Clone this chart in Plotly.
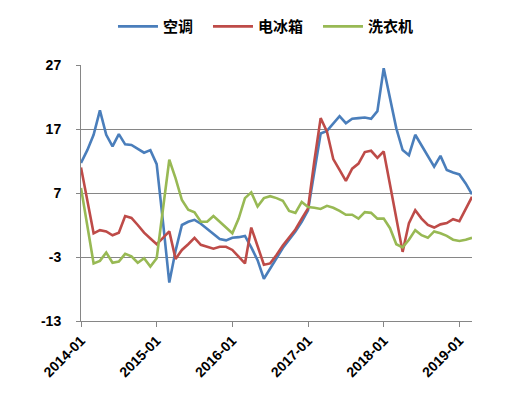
import plotly.graph_objects as go

months = [f"{y}-{m:02d}" for y in range(2014, 2020) for m in range(1, 13)][:63]
tick_labels = ["2014-01", "2015-01", "2016-01", "2017-01", "2018-01", "2019-01"]

ac = [11.7, 13.7, 16.1, 19.9, 16.1, 14.3, 16.2, 14.6, 14.5, 13.9, 13.3, 13.7,
      11.5, 2.5, -7.0, -2.0, 2.0, 2.5, 2.8, 2.2, 1.4, 0.6, -0.2, -0.4,
      0.0, 0.1, 0.3, -1.5, -3.5, -6.4, -4.8, -3.05, -1.6, -0.3, 1.0, 2.5,
      4.3, 10.3, 16.3, 16.7, 17.9, 19.0, 17.9, 18.6, 18.7, 18.8, 18.6, 19.8,
      26.5, 21.8, 17.1, 13.7, 12.9, 16.1, 14.5, 12.7, 11.1, 12.8, 10.6, 10.2,
      9.9, 8.5, 6.8]
fridge = [11.0, 5.9, 0.7, 1.2, 1.0, 0.4, 0.8, 3.4, 3.1, 2.0, 0.8, -0.1,
          -1.0, 0.0, 1.0, -3.3, -1.9, -1.0, 0.0, -1.1, -1.4, -1.7, -1.4, -1.4,
          -1.9, -3.0, -4.0, 1.6, -1.4, -4.2, -4.0, -2.7, -1.2, 0.0, 1.3, 3.0,
          4.6, 12.0, 18.7, 16.6, 12.3, 10.6, 8.9, 10.8, 11.6, 13.4, 13.6, 12.5,
          13.5, 8.3, 3.0, -2.2, 2.3, 4.3, 3.0, 2.0, 1.6, 2.1, 2.3, 2.9,
          2.6, 4.6, 6.4]
washer = [7.8, 1.9, -4.0, -3.6, -2.3, -3.9, -3.7, -2.5, -2.9, -3.9, -3.2, -4.5,
          -3.2, 4.5, 12.2, 9.3, 5.9, 4.4, 4.0, 2.5, 2.5, 3.4, 2.5, 1.6,
          0.7, 3.0, 6.2, 7.1, 4.9, 6.2, 6.5, 6.2, 5.8, 4.2, 3.9, 5.6,
          4.8, 4.7, 4.5, 5.0, 4.7, 4.2, 3.6, 3.6, 3.0, 4.0, 3.9, 3.0,
          3.0, 1.5, -1.0, -1.5, -0.3, 1.2, 0.4, 0.0, 1.0, 0.7, 0.3, -0.3,
          -0.5, -0.3, 0.0]

series = [("空调", ac, "#4A7EBB", "legend"),
          ("电冰箱", fridge, "#BE4B48", "legend2"),
          ("洗衣机", washer, "#98B954", "legend3")]
legend_x = [0.2083, 0.3968, 0.6151]

fig = go.Figure()
for name, vals, color, lg in series:
    fig.add_trace(go.Scatter(x=months, y=vals, mode="lines", name=name, legend=lg,
                             line=dict(color=color, width=2.6)))

leg_common = dict(orientation="h", xref="container", yref="container",
                  xanchor="left", y=0.951, yanchor="middle",
                  font=dict(family="Noto Sans CJK SC", size=15, color="black", weight="bold"),
                  itemwidth=40, bgcolor="rgba(0,0,0,0)")

fig.update_layout(
    width=504, height=380,
    margin=dict(l=73, r=40, t=57, b=67, autoexpand=False),
    paper_bgcolor="white", plot_bgcolor="white",
    font=dict(family="Liberation Sans, Arial, sans-serif", size=13, color="black"),
    showlegend=True,
    legend=dict(x=legend_x[0], **leg_common),
    legend2=dict(x=legend_x[1], **leg_common),
    legend3=dict(x=legend_x[2], **leg_common),
    xaxis=dict(type="category", range=[0, 62], tickmode="array", tickvals=tick_labels,
               ticktext=[f"<b>{t}</b>" for t in tick_labels], tickangle=-45,
               showgrid=False, showline=True, linecolor="#868686", linewidth=1,
               ticks="outside", ticklen=5, tickcolor="#868686",
               tickfont=dict(size=14, family="Liberation Sans, Arial, sans-serif"),
               zeroline=False),
    yaxis=dict(range=[-13, 27], tickmode="array", tickvals=[-13, -3, 7, 17, 27],
               ticktext=["<b>-13</b>", "<b>-3</b>", "<b>7</b>", "<b>17</b>", "<b>27</b>"],
               showgrid=True, gridcolor="#868686", gridwidth=1,
               showline=True, linecolor="#868686", linewidth=1,
               ticks="outside", ticklen=4, tickcolor="#868686",
               ticklabelstandoff=12,
               tickfont=dict(size=14, family="Liberation Sans, Arial, sans-serif"),
               zeroline=False),
)

fig.write_html("out.html")
